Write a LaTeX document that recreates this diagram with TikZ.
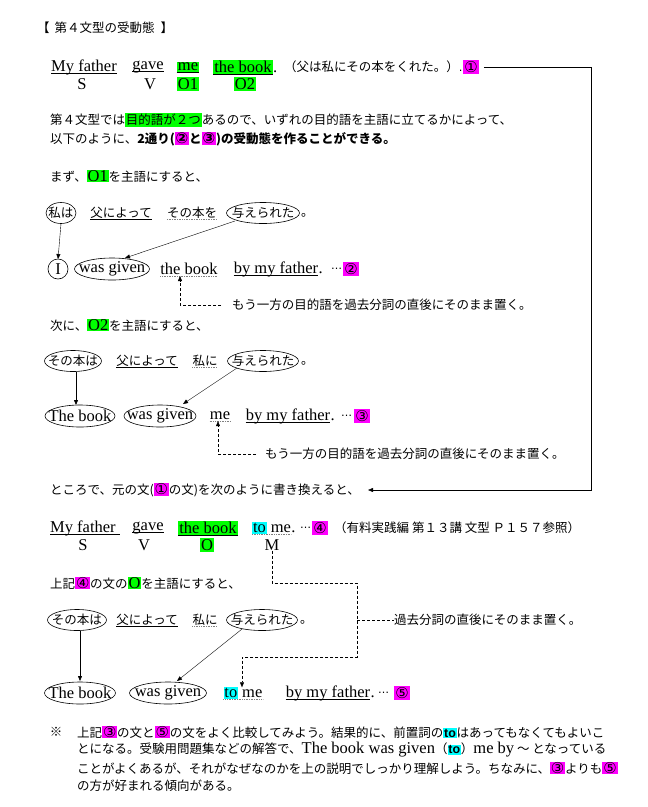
\documentclass[tikz,border=0pt]{standalone}
\usepackage{fontspec}
\setmainfont{Liberation Serif}
\newfontfamily\jp{Noto Sans CJK JP}
\newfontfamily\arl{Liberation Sans}
\newfontfamily\djf{DejaVu Sans}
\usetikzlibrary{shapes.geometric,arrows.meta}
\definecolor{grn}{RGB}{0,255,0}
\definecolor{mag}{RGB}{255,0,255}
\definecolor{cyn}{RGB}{0,255,255}
\newcommand\J{\jp\fontsize{12.5}{15}\selectfont}
\newcommand\E{\rmfamily\fontsize{16.5}{18}\selectfont}
\newcommand\hbx[2]{{\setlength{\fboxsep}{0.8pt}\colorbox{#1}{#2}}}
\newcommand\hm[1]{\hbx{mag}{{\djf\fontsize{15}{16}\selectfont #1}}}
\newcommand\hg[1]{\hbx{grn}{#1}}
\newcommand\hc[1]{\hbx{cyn}{#1}}
\newcommand\dts{{\djf\fontsize{11}{13}\selectfont …}}
\tikzset{
 jt/.style={inner sep=0pt,font=\J},
 et/.style={inner sep=0pt,font=\E},
 ul/.style={append after command={([yshift=-2pt]\tikzlastnode.base west) edge[draw=black,line width=0.7pt] ([yshift=-2pt]\tikzlastnode.base east)}},
 dul/.style={append after command={([yshift=-2pt]\tikzlastnode.base west) edge[draw=gray,densely dotted,line width=0.7pt] ([yshift=-2pt]\tikzlastnode.base east)}},
 elps/.style={line width=0.6pt},
 cnum/.style={fill=mag,inner sep=1pt,font=\djf\fontsize{15}{16}\selectfont},
 hgn/.style={fill=grn,inner sep=1pt},
 tip/.style={-{Triangle[length=5pt,width=4pt]}},
 dsh/.style={densely dashed,line width=0.5pt},
}
\begin{document}
\begin{tikzpicture}[x=1pt,y=-1pt]
\useasboundingbox (0,0) rectangle (648,807);
% title
\node[jt,anchor=west] (title) at (37,28) {【\hspace{5pt}第４文型の受動態\hspace{6pt}】};
% sentence 1
\node[et,ul] (mf1) at (84,67) {My father};
\node[et,ul] (gv1) at (148,67) {gave};
\node[et,ul,hgn] (me1) at (188,67) {me};
\node[et,ul,hgn] (tb1) at (243,67) {the book};
\node[et,anchor=base west] (dot1) at (tb1.base east) {.};
\node[jt,anchor=west] (tr1) at (284,67) {（父は私にその本をくれた。）\dts};
\node[cnum] (c1) at (471,67) {①};
\node[et] (S1) at (82,84) {S};
\node[et] (V1) at (150,84) {V};
\node[et,hgn] (O11) at (188,84) {O1};
\node[et,hgn] (O21) at (245,84) {O2};
% paragraph
\node[jt,anchor=west] (p1) at (50,120) {第４文型では\hg{目的語が２つ}あるので、いずれの目的語を主語に立てるかによって、};
\node[jt,anchor=west] (p2) at (50,139) {以下のように、{\bfseries 2通り(\hm{②}と\hm{③})の受動態を作ることができる。}};
\node[jt,anchor=west] (p3) at (50,176) {まず、\hg{\E O1}を主語にすると、};
% row A
\node[jt] (a1) at (61,213) {私は};
\draw[elps] (a1.center) ellipse[x radius=15, y radius=10.5];
\node[jt,ul] (a2) at (121,213) {父によって};
\node[jt,dul] (a3) at (192,213) {その本を};
\node[jt] (a4) at (263,213) {与えられた};
\draw[elps] (a4.center) ellipse[x radius=36.5, y radius=10.5];
\node[jt,anchor=west] (a5) at (301,215) {。};
\node[et] (b1) at (58,269) {I};
\draw[elps] (b1.center) circle[radius=10];
\node[et] (b2) at (112,269) {was given};
\draw[elps] (b2.center) ellipse[x radius=37.5, y radius=11];
\node[et,dul] (b3) at (189,269) {the book};
\node[et,ul] (b4) at (276,269) {by my father};
\node[et,anchor=base west] (b5) at (b4.base east) {.};
\node[jt,anchor=west] (b6) at (331,269) {\dts};
\node[cnum] (b7) at (351,269) {②};
\draw[tip] ([yshift=-10.5pt]a1.center) -- ([yshift=10pt]b1.center);
\draw[tip] ([xshift=-28pt,yshift=-8pt]a4.center) -- ([xshift=13pt,yshift=11pt]b2.center);
\node[jt,anchor=west] (n1) at (232,305) {もう一方の目的語を過去分詞の直後にそのまま置く。};
\draw[dsh,tip] ([xshift=-11pt]n1.west) -| ([xshift=-9pt,yshift=-1pt]b3.south);
% row B
\node[jt,anchor=west] (p4) at (50,325) {次に、\hg{\E O2}を主語にすると、};
\node[jt] (c1a) at (73,361) {その本は};
\draw[elps] (c1a.center) ellipse[x radius=28.5, y radius=10.5];
\node[jt,ul] (c2) at (147,361) {父によって};
\node[jt,dul] (c3) at (205,361) {私に};
\node[jt] (c4) at (263,361) {与えられた};
\draw[elps] (c4.center) ellipse[x radius=35.5, y radius=10.5];
\node[jt,anchor=west] (c5) at (301,363) {。};
\node[et] (d1) at (80,416) {The book};
\draw[elps] (d1.center) ellipse[x radius=35, y radius=11];
\node[et] (d2) at (160,416) {was given};
\draw[elps] (d2.center) ellipse[x radius=36, y radius=11];
\node[et,dul] (d3) at (220,416) {me};
\node[et,ul] (d4) at (288,416) {by my father};
\node[et,anchor=base west] (d5) at (d4.base east) {.};
\node[jt,anchor=west] (d6) at (341,416) {\dts};
\node[cnum] (d7) at (362,416) {③};
\draw[tip] ([xshift=3pt,yshift=-10.5pt]c1a.center) -- ([xshift=-4pt,yshift=11pt]d1.center);
\draw[tip] ([xshift=-26pt,yshift=-7pt]c4.center) -- ([xshift=23pt,yshift=12pt]d2.center);
\node[jt,anchor=west] (n2) at (265,454) {もう一方の目的語を過去分詞の直後にそのまま置く。};
\draw[dsh,tip] ([xshift=-9pt]n2.west) -| ([xshift=-2pt,yshift=-1pt]d3.south);
% tokoro
\node[jt,anchor=west] (tk) at (50,490) {ところで、元の文(\hm{①}の文)を次のように書き換えると、};
\coordinate (rc) at (591,490);
\draw[tip] ([xshift=5pt]c1.east) -| (rc) -- ([xshift=8pt]tk.east);
% sentence 4
\node[et,ul,anchor=west] (e1) at (50,528) {My father\ \ };
\node[et,ul] (e2) at (148,528) {gave};
\node[et,ul,hgn] (e3) at (208,528) {the book};
\node[et,dul,anchor=west] (e4) at (252,528) {\hc{to} me};
\node[et,anchor=base west] (e5) at (e4.base east) {.};
\node[jt,anchor=west] (e6) at (300,528) {\dts};
\node[cnum] (e7) at (320,528) {④};
\node[jt,anchor=west] (e8) at (334,528) {（有料実践編\ 第１３講\ 文型\ Ｐ１５７参照）};
\node[et] (S4) at (83,545) {S};
\node[et] (V4) at (144,545) {V};
\node[et,hgn] (O4) at (207,545) {O};
\node[et] (M4) at (272,545) {M};
\node[jt,anchor=west] (p5) at (50,583) {上記\hm{④}の文の\hg{\E O}を主語にすると、};
% row C
\node[jt] (f1) at (77,620) {その本は};
\draw[elps] (f1.center) ellipse[x radius=29.5, y radius=10.5];
\node[jt,ul] (f2) at (147,620) {父によって};
\node[jt,dul] (f3) at (205,620) {私に};
\node[jt] (f4) at (262,620) {与えられた};
\draw[elps] (f4.center) ellipse[x radius=35.5, y radius=10.5];
\node[jt,anchor=west] (f5) at (300,622) {。};
\node[et] (g1) at (80,693) {The book};
\draw[elps] (g1.center) ellipse[x radius=35.5, y radius=11];
\node[et] (g2) at (168,693) {was given};
\draw[elps] (g2.center) ellipse[x radius=38.5, y radius=11];
\node[et,dul] (g3) at (243,693) {\hc{to} me};
\node[et,ul] (g4) at (328,693) {by my father};
\node[et,anchor=base west] (g5) at (g4.base east) {.};
\node[jt,anchor=west] (g6) at (378,693) {\dts};
\node[cnum] (g7) at (402,693) {⑤};
\draw[tip] ([xshift=3pt,yshift=-10.5pt]f1.center) -- ([yshift=12pt]g1.center);
\draw[tip] ([xshift=-20pt,yshift=-9pt]f4.center) -- ([xshift=9pt,yshift=12pt]g2.center);
\node[jt,anchor=west] (n3) at (394,620) {過去分詞の直後にそのまま置く。};
\coordinate (k1) at (357,583);
\coordinate (k2) at (242,657);
\draw[dsh,tip] (M4.south) |- (k1) |- (k2) -- (k2 |- g3.north);
\draw[dsh] (357,620) -- (n3.west);
% note
\node[jt] (kome) at (56,732) {※};
\node[jt,anchor=west] (q1) at (77,732) {上記\hm{③}の文と\hm{⑤}の文をよく比較してみよう。結果的に、前置詞の\hc{\arl\bfseries to}はあってもなくてもよいこ};
\node[jt,anchor=west] (q2) at (77,750) {とになる。受験用問題集などの解答で、{\E The book was given}（\hc{\arl\bfseries to}）{\E me by} ～\ となっている};
\node[jt,anchor=west] (q3) at (77,768) {ことがよくあるが、それがなぜなのかを上の説明でしっかり理解しよう。ちなみに、\hm{③}よりも\hm{⑤}};
\node[jt,anchor=west] (q4) at (77,786) {の方が好まれる傾向がある。};
\end{tikzpicture}
\end{document}
